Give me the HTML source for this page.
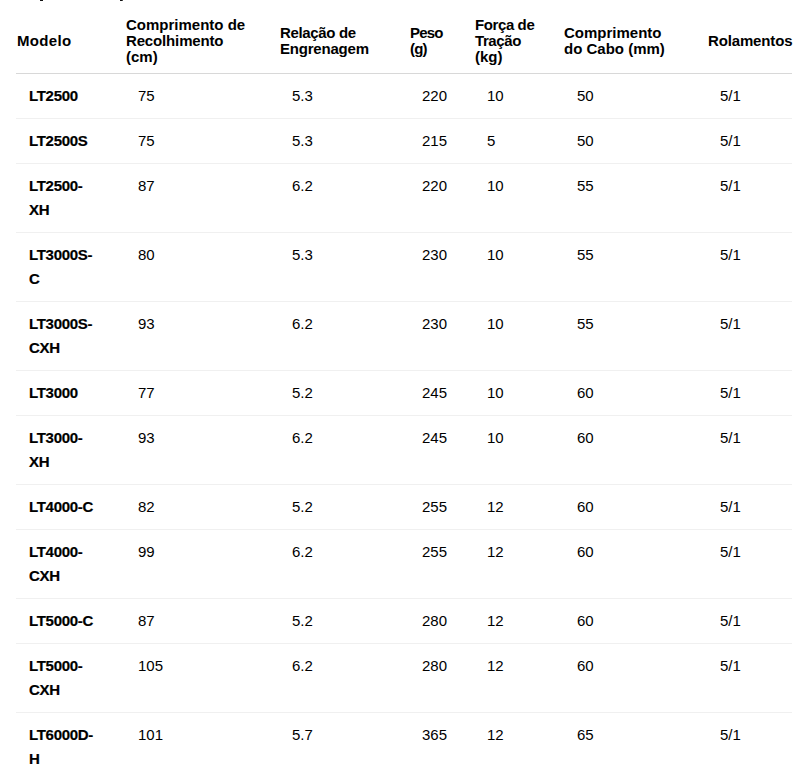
<!DOCTYPE html>
<html>
<head>
<meta charset="utf-8">
<style>
html,body{margin:0;padding:0;background:#fff;}
body{width:803px;height:772px;overflow:hidden;position:relative;font-family:"Liberation Sans",sans-serif;color:#000;}
.mark{position:absolute;background:#111;height:1px;top:0;}
table{position:absolute;left:16px;top:9px;border-collapse:collapse;table-layout:fixed;width:776px;}
th{font-weight:bold;font-size:15px;line-height:16px;text-align:left;vertical-align:middle;padding:8px 0 8px 0;white-space:nowrap;border-bottom:1px solid #d8d8d8;}
td{font-size:15px;line-height:24px;text-align:left;vertical-align:top;padding:10px 0 10px 12px;white-space:nowrap;border-bottom:1px solid #f0f0f0;}
th:first-child{padding-left:1px;}
td:nth-child(6){padding-left:13px;}
td.m{padding-left:13px;font-weight:bold;letter-spacing:-0.3px;-webkit-text-stroke:0.2px #000;}
</style>
</head>
<body>
<div class="mark" style="left:40px;width:3px"></div>
<div class="mark" style="left:120px;width:3px;background:linear-gradient(to right,#111 55%,#777)"></div>
<table>
<colgroup>
<col style="width:110px"><col style="width:154px"><col style="width:130px"><col style="width:65px"><col style="width:89px"><col style="width:144px"><col style="width:84px">
</colgroup>
<thead>
<tr>
<th style="letter-spacing:0.35px">Modelo</th>
<th>Comprimento de<br><span style="letter-spacing:-0.15px">Recolhimento</span><br>(cm)</th>
<th><span style="letter-spacing:-0.35px">Relação de</span><br><span style="letter-spacing:-0.2px">Engrenagem</span></th>
<th style="letter-spacing:-0.8px">Peso<br>(g)</th>
<th><span style="letter-spacing:-0.4px">Força de</span><br><span style="letter-spacing:-0.4px">Tração</span><br>(kg)</th>
<th>Comprimento<br>do Cabo (mm)</th>
<th style="letter-spacing:-0.15px">Rolamentos</th>
</tr>
</thead>
<tbody>
<tr><td class="m">LT2500</td><td>75</td><td>5.3</td><td>220</td><td>10</td><td>50</td><td>5/1</td></tr>
<tr><td class="m">LT2500S</td><td>75</td><td>5.3</td><td>215</td><td>5</td><td>50</td><td>5/1</td></tr>
<tr><td class="m">LT2500-<br>XH</td><td>87</td><td>6.2</td><td>220</td><td>10</td><td>55</td><td>5/1</td></tr>
<tr><td class="m">LT3000S-<br>C</td><td>80</td><td>5.3</td><td>230</td><td>10</td><td>55</td><td>5/1</td></tr>
<tr><td class="m">LT3000S-<br>CXH</td><td>93</td><td>6.2</td><td>230</td><td>10</td><td>55</td><td>5/1</td></tr>
<tr><td class="m">LT3000</td><td>77</td><td>5.2</td><td>245</td><td>10</td><td>60</td><td>5/1</td></tr>
<tr><td class="m">LT3000-<br>XH</td><td>93</td><td>6.2</td><td>245</td><td>10</td><td>60</td><td>5/1</td></tr>
<tr><td class="m">LT4000-C</td><td>82</td><td>5.2</td><td>255</td><td>12</td><td>60</td><td>5/1</td></tr>
<tr><td class="m">LT4000-<br>CXH</td><td>99</td><td>6.2</td><td>255</td><td>12</td><td>60</td><td>5/1</td></tr>
<tr><td class="m">LT5000-C</td><td>87</td><td>5.2</td><td>280</td><td>12</td><td>60</td><td>5/1</td></tr>
<tr><td class="m">LT5000-<br>CXH</td><td>105</td><td>6.2</td><td>280</td><td>12</td><td>60</td><td>5/1</td></tr>
<tr><td class="m">LT6000D-<br>H</td><td>101</td><td>5.7</td><td>365</td><td>12</td><td>65</td><td>5/1</td></tr>
</tbody>
</table>
</body>
</html>
